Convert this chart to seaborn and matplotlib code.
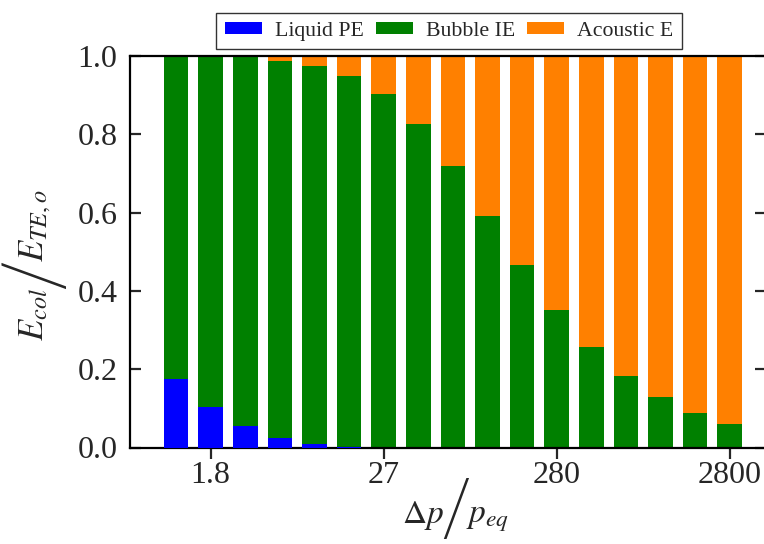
import matplotlib
matplotlib.use("Agg")
import matplotlib.pyplot as plt
import seaborn as sns
import pandas as pd

categories = [str(i) for i in range(17)]
liquid_pe = [0.174, 0.103, 0.055, 0.025, 0.010, 0.002, 0, 0, 0, 0, 0, 0, 0, 0, 0, 0, 0]
bubble_ie = [0.826, 0.897, 0.942, 0.963, 0.965, 0.947, 0.902, 0.826, 0.719, 0.592,
             0.465, 0.350, 0.256, 0.183, 0.129, 0.089, 0.060]
acoustic_e = [0.000, 0.000, 0.003, 0.012, 0.025, 0.051, 0.098, 0.174, 0.281, 0.408,
              0.535, 0.650, 0.744, 0.817, 0.871, 0.911, 0.940]
tick_positions = [1, 6, 11, 16]
tick_labels = ["1.8", "27", "280", "2800"]
ytick_values = [0.0, 0.2, 0.4, 0.6, 0.8, 1.0]
ytick_labels = ["0.0", "0.2", "0.4", "0.6", "0.8", "1.0"]

series_names = ["Liquid PE", "Bubble IE", "Acoustic E"]
colors = ["#0000ff", "#008000", "#ff8000"]

sns.set_style("ticks")
plt.rcParams["font.family"] = ["Liberation Serif", "DejaVu Serif"]
plt.rcParams["mathtext.fontset"] = "stix"

df = pd.DataFrame({"cat": categories, "liq": liquid_pe, "bub": bubble_ie, "aco": acoustic_e})
df["lvl1"] = df["liq"]
df["lvl2"] = df["liq"] + df["bub"]
df["lvl3"] = df["lvl2"] + df["aco"]

W, H = 764, 544
fig = plt.figure(figsize=(W / 100, H / 100), dpi=100)
ax = fig.add_axes([130 / W, (H - 447.5) / H, (766 - 130) / W, (447.5 - 56) / H])

w = 0.71
sns.barplot(data=df, x="cat", y="lvl3", color=colors[2], width=w, linewidth=0,
            saturation=1, ax=ax, label=series_names[2], zorder=1)
sns.barplot(data=df, x="cat", y="lvl2", color=colors[1], width=w, linewidth=0,
            saturation=1, ax=ax, label=series_names[1], zorder=2)
sns.barplot(data=df, x="cat", y="lvl1", color=colors[0], width=w, linewidth=0,
            saturation=1, ax=ax, label=series_names[0], zorder=3)
if ax.get_legend() is not None:
    ax.get_legend().remove()

ax.set_xlim(-1.33, 17.05)
ax.set_ylim(0, 1.0)
ax.set_xticks(tick_positions)
ax.set_xticklabels(tick_labels)
ax.set_yticks(ytick_values)
ax.set_yticklabels(ytick_labels)
ax.set_xlabel("")
ax.set_ylabel("")

for s in ax.spines.values():
    s.set_linewidth(1.6)
    s.set_color("black")
    s.set_visible(True)

ax.tick_params(axis="x", direction="out", length=8, width=1.6, labelsize=23, pad=2)
ax.tick_params(axis="y", direction="in", length=8, width=1.6, labelsize=23, pad=9,
               right=True, left=True)

renderer = fig.canvas.get_renderer()
slash_family = ["STIXSizeTwoSym", "STIXGeneral", "DejaVu Serif"]

# x label: Δp / p_eq with a tall slash
x = 402.0
base = 523.0
for txt, size, dy, gap, fam in [(r"$\Delta p$", 24, 0, 0, None),
                                ("/", 24, 7, -2, slash_family),
                                (r"$p_{eq}$", 24, 0, -3, None)]:
    x += gap
    kw = {} if fam is None else {"family": fam}
    t = fig.text(x / W, (H - (base + dy)) / H, txt, fontsize=size, ha="left",
                 va="baseline", **kw)
    x += t.get_window_extent(renderer).width

# y label: E_col / E_TE,o (rotated) with a tall slash
y = H - 341.0
bx = 43.0
for txt, size, dx, gap, fam in [(r"$E_{col}$", 25, 0, 0, None),
                                ("/", 25, 13, -1, slash_family),
                                (r"$E_{TE,o}$", 25, 0, -1, None)]:
    y += gap
    kw = {} if fam is None else {"family": fam}
    t = fig.text((bx + dx) / W, y / H, txt, fontsize=size, rotation=90,
                 rotation_mode="anchor", ha="left", va="baseline", **kw)
    y += t.get_window_extent(renderer).height

handles, labels = ax.get_legend_handles_labels()
order = [labels.index(n) for n in series_names]
leg = fig.legend([handles[i] for i in order], [labels[i] for i in order],
                 loc="upper center", bbox_to_anchor=(449 / W, 1 - 2 / H), ncol=3,
                 fontsize=15.7, frameon=True, fancybox=False, edgecolor="black",
                 handlelength=1.7, handleheight=0.45, columnspacing=0.55,
                 handletextpad=0.6, borderpad=0.4)
leg.get_frame().set_linewidth(1.0)

fig.savefig("out.png", dpi=100)
